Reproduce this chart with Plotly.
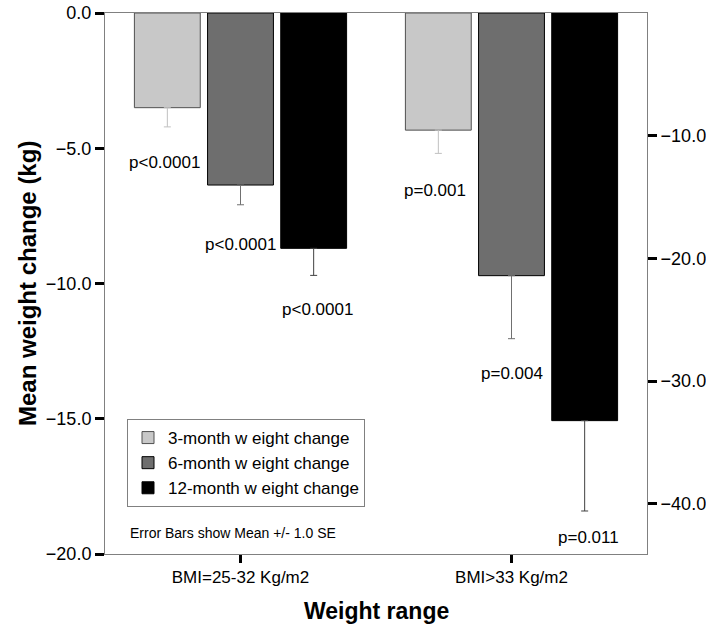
import plotly.graph_objects as go

# ---- data ----
categories = ["BMI=25-32 Kg/m2", "BMI>33 Kg/m2"]
series_names = ["3-month w eight change", "6-month w eight change", "12-month w eight change"]
mean_3m = [-3.50, -4.33]
se_3m = [0.71, 0.86]
mean_6m = [-6.36, -9.71]
se_6m = [0.73, 2.33]
mean_12m = [-8.70, -15.07]
se_12m = [1.00, 3.34]
p_3m = ["p<0.0001", "p=0.001"]
p_6m = ["p<0.0001", "p=0.004"]
p_12m = ["p<0.0001", "p=0.011"]
left_ticks = [0.0, -5.0, -10.0, -15.0, -20.0]
right_ticks = [-10.0, -20.0, -30.0, -40.0]
KG_TO_LB = 2.20462

# ---- styles ----
fills = ["#c8c8c8", "#6e6e6e", "#000000"]
outlines = ["#505050", "#000000", "#000000"]
err_colors = ["#c0c0c0", "#707070", "#404040"]
label_shift = [[-36, -37], [-40, -35], [-34, -27]]
FONT = "Arial, Liberation Sans, sans-serif"

means = [mean_3m, mean_6m, mean_12m]
ses = [se_3m, se_6m, se_12m]
pvals = [p_3m, p_6m, p_12m]

fig = go.Figure()
for i in range(3):
    fig.add_trace(go.Bar(
        x=categories, y=means[i], name=series_names[i],
        marker=dict(color=fills[i], line=dict(color=outlines[i], width=1)),
        error_y=dict(type="data", symmetric=False, array=[0] * len(categories),
                     arrayminus=ses[i], color=err_colors[i], thickness=1, width=3.5),
        offsetgroup=str(i),
    ))

# invisible trace to carry the secondary (lb) axis
fig.add_trace(go.Scatter(
    x=categories, y=[v * KG_TO_LB for v in mean_12m], yaxis="y2",
    mode="markers", marker=dict(opacity=0), showlegend=False, hoverinfo="skip",
))

# p-value labels under each error bar
annotations = []
for i in range(3):
    for j, cat in enumerate(categories):
        annotations.append(dict(
            x=cat, y=means[i][j] - ses[i][j], xref="x", yref="y",
            text=pvals[i][j], showarrow=False, yanchor="middle",
            yshift=label_shift[i][j], xshift=(i - 1) * 76.5,
            font=dict(family=FONT, size=17, color="black"),
        ))

annotations.append(dict(
    x=0.042, y=0.039, xref="paper", yref="paper", xanchor="left", yanchor="middle",
    text="Error Bars show Mean +/- 1.0 SE", showarrow=False,
    font=dict(family=FONT, size=14, color="black"),
))
annotations.append(dict(
    x=-0.143, y=0.5, xref="paper", yref="paper", xanchor="center", yanchor="middle",
    text="<b>Mean weight change (kg)</b>", textangle=-90, showarrow=False,
    font=dict(family=FONT, size=24, color="black"),
))
annotations.append(dict(
    x=0.5, y=-0.105, xref="paper", yref="paper", xanchor="center", yanchor="middle",
    text="<b>Weight range</b>", showarrow=False,
    font=dict(family=FONT, size=23, color="black"),
))

fig.update_layout(
    width=706, height=628,
    margin=dict(l=105, r=59, t=13, b=74, autoexpand=False),
    plot_bgcolor="white", paper_bgcolor="white",
    barmode="group", bargap=0.19, bargroupgap=0.1,
    font=dict(family=FONT, size=17, color="black"),
    showlegend=True,
    legend=dict(
        x=0.0406, y=0.2495, xanchor="left", yanchor="top",
        bordercolor="#808080", borderwidth=1, bgcolor="white",
        font=dict(family=FONT, size=17, color="black"),
        tracegroupgap=0, traceorder="normal",
    ),
    xaxis=dict(
        range=[-0.5, 1.5], showline=True, linecolor="#808080", linewidth=1, mirror=True,
        ticks="outside", ticklen=8, tickwidth=3, tickcolor="black",
        showgrid=False, zeroline=False, tickfont=dict(size=17), automargin=False,
    ),
    yaxis=dict(
        range=[-20, 0], tickvals=left_ticks, tickformat=".1f",
        showline=True, linecolor="#808080", linewidth=1,
        ticks="outside", ticklen=9, tickwidth=3, tickcolor="black",
        showgrid=False, zeroline=False, tickfont=dict(size=18), automargin=False,
    ),
    yaxis2=dict(
        overlaying="y", side="right", range=[-20 * KG_TO_LB, 0],
        tickvals=right_ticks, tickformat=".1f",
        showline=True, linecolor="#808080", linewidth=1,
        ticks="outside", ticklen=9, tickwidth=3, tickcolor="black",
        showgrid=False, zeroline=False, tickfont=dict(size=18), automargin=False,
    ),
    annotations=annotations,
)

fig.write_html("out.html", config={"displayModeBar": False},
               post_script="document.body.style.margin='0';")
